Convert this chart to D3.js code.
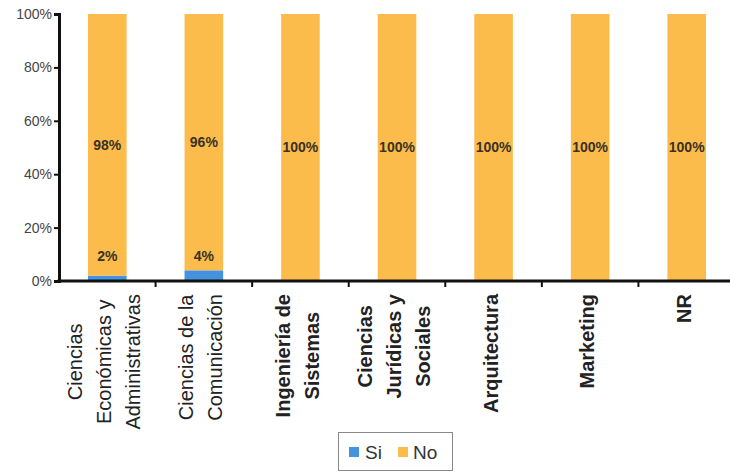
<!DOCTYPE html>
<html>
<head>
<meta charset="utf-8">
<script src="https://cdn.jsdelivr.net/npm/d3@7"></script>
<style>
  html, body { margin: 0; padding: 0; background: #fff; }
  svg { display: block; font-family: "Liberation Sans", Arial, sans-serif; }
</style>
</head>
<body>
<svg id="chart" width="730" height="473"></svg>
<script>
// ---- data ----
const categories = [
  "Ciencias\nEconómicas y\nAdministrativas",
  "Ciencias de la\nComunicación",
  "Ingeniería de\nSistemas",
  "Ciencias\nJurídicas y\nSociales",
  "Arquitectura",
  "Marketing",
  "NR"
];
const boldLabel = [false, false, true, true, true, true, true];
const siValues = [2, 4, 0, 0, 0, 0, 0];
const noValues = [98, 96, 100, 100, 100, 100, 100];
const seriesNames = ["Si", "No"];
const yTicks = [0, 20, 40, 60, 80, 100];

// ---- layout ----
const svg = d3.select("#chart");
const colors = { Si: "#4593E0", No: "#FCBC4C" };
const plotLeft = 59, plotRight = 735, plotTop = 14, plotBottom = 281;

const x = d3.scaleBand().domain(categories).range([plotLeft, plotRight]).paddingInner(0).paddingOuter(0);
const y = d3.scaleLinear().domain([0, 100]).range([plotBottom, plotTop]);
const barW = x.bandwidth() * 0.4;

const rows = categories.map((c, i) => ({ cat: c, Si: siValues[i], No: noValues[i], bold: boldLabel[i] }));
const stack = d3.stack().keys(seriesNames)(rows);

// bars
stack.forEach(layer => {
  svg.append("g").selectAll("rect").data(layer).join("rect")
    .attr("x", d => x(d.data.cat) + x.bandwidth() / 2 - barW / 2)
    .attr("width", barW)
    .attr("y", d => y(d[1]))
    .attr("height", d => Math.max(0, y(d[0]) - y(d[1])))
    .attr("fill", colors[layer.key]);
});

// data labels: No (centered in segment)
const labelColor = "#3a3223";
svg.append("g").selectAll("text").data(stack[1]).join("text")
  .attr("x", d => x(d.data.cat) + x.bandwidth() / 2)
  .attr("y", d => y((d[0] + d[1]) / 2))
  .attr("dy", "0.35em")
  .attr("text-anchor", "middle")
  .attr("font-size", 14).attr("font-weight", "bold")
  .attr("fill", labelColor)
  .text(d => (d[1] - d[0]) + "%");

// data labels: Si (placed just above the small segment)
const siLabelLevel = 9.5;
svg.append("g").selectAll("text").data(stack[0].filter(d => d[1] - d[0] > 0)).join("text")
  .attr("x", d => x(d.data.cat) + x.bandwidth() / 2)
  .attr("y", y(siLabelLevel))
  .attr("dy", "0.35em")
  .attr("text-anchor", "middle")
  .attr("font-size", 14).attr("font-weight", "bold")
  .attr("fill", labelColor)
  .text(d => (d[1] - d[0]) + "%");

// y axis
const yAxis = svg.append("g").attr("transform", `translate(${plotLeft},0)`)
  .call(d3.axisLeft(y).tickValues(yTicks).tickFormat(d => d + "%").tickSize(5).tickPadding(2));
yAxis.select(".domain").attr("stroke", "#111").attr("stroke-width", 3);
yAxis.selectAll(".tick line").attr("stroke", "#111").attr("stroke-width", 2);
yAxis.selectAll(".tick text").attr("font-size", 14).attr("fill", "#444")
  .attr("font-family", "Liberation Sans, Arial, sans-serif");

// x axis
svg.append("line").attr("x1", plotLeft - 1.5).attr("x2", 730).attr("y1", plotBottom).attr("y2", plotBottom)
  .attr("stroke", "#111").attr("stroke-width", 3);
svg.append("g").selectAll("line").data(categories.slice(0, -1)).join("line")
  .attr("x1", d => x(d) + x.bandwidth()).attr("x2", d => x(d) + x.bandwidth())
  .attr("y1", plotBottom).attr("y2", plotBottom + 6)
  .attr("stroke", "#111").attr("stroke-width", 2);

// category labels (rotated)
const labelTop = 294, lineGap = 29;
rows.forEach(r => {
  const lines = r.cat.split("\n");
  const g = svg.append("g")
    .attr("transform", `translate(${x(r.cat) + x.bandwidth() / 2 - 3},${labelTop}) rotate(-90)`);
  const texts = g.selectAll("text").data(lines).join("text")
    .attr("y", (d, i) => (i - (lines.length - 1) / 2) * lineGap)
    .attr("dy", "0.35em")
    .attr("text-anchor", "middle")
    .attr("font-size", 20)
    .attr("font-weight", r.bold ? "bold" : "normal")
    .attr("fill", "#222")
    .text(d => d);
  let maxLen = 0;
  texts.each(function () { maxLen = Math.max(maxLen, this.getComputedTextLength()); });
  texts.attr("x", -maxLen / 2);
});

// legend
const lg = svg.append("g");
lg.append("rect").attr("x", 338.5).attr("y", 432.5).attr("width", 114).attr("height", 38)
  .attr("fill", "#fff").attr("stroke", "#888").attr("stroke-width", 1);
const items = [
  { name: seriesNames[0], sx: 349, tx: 365 },
  { name: seriesNames[1], sx: 398, tx: 413 }
];
items.forEach(it => {
  lg.append("rect").attr("x", it.sx).attr("y", 447).attr("width", 10).attr("height", 10)
    .attr("fill", colors[it.name]);
  lg.append("text").attr("x", it.tx).attr("y", 452).attr("dy", "0.35em")
    .attr("font-size", 19).attr("fill", "#333").text(it.name);
});
</script>
</body>
</html>
